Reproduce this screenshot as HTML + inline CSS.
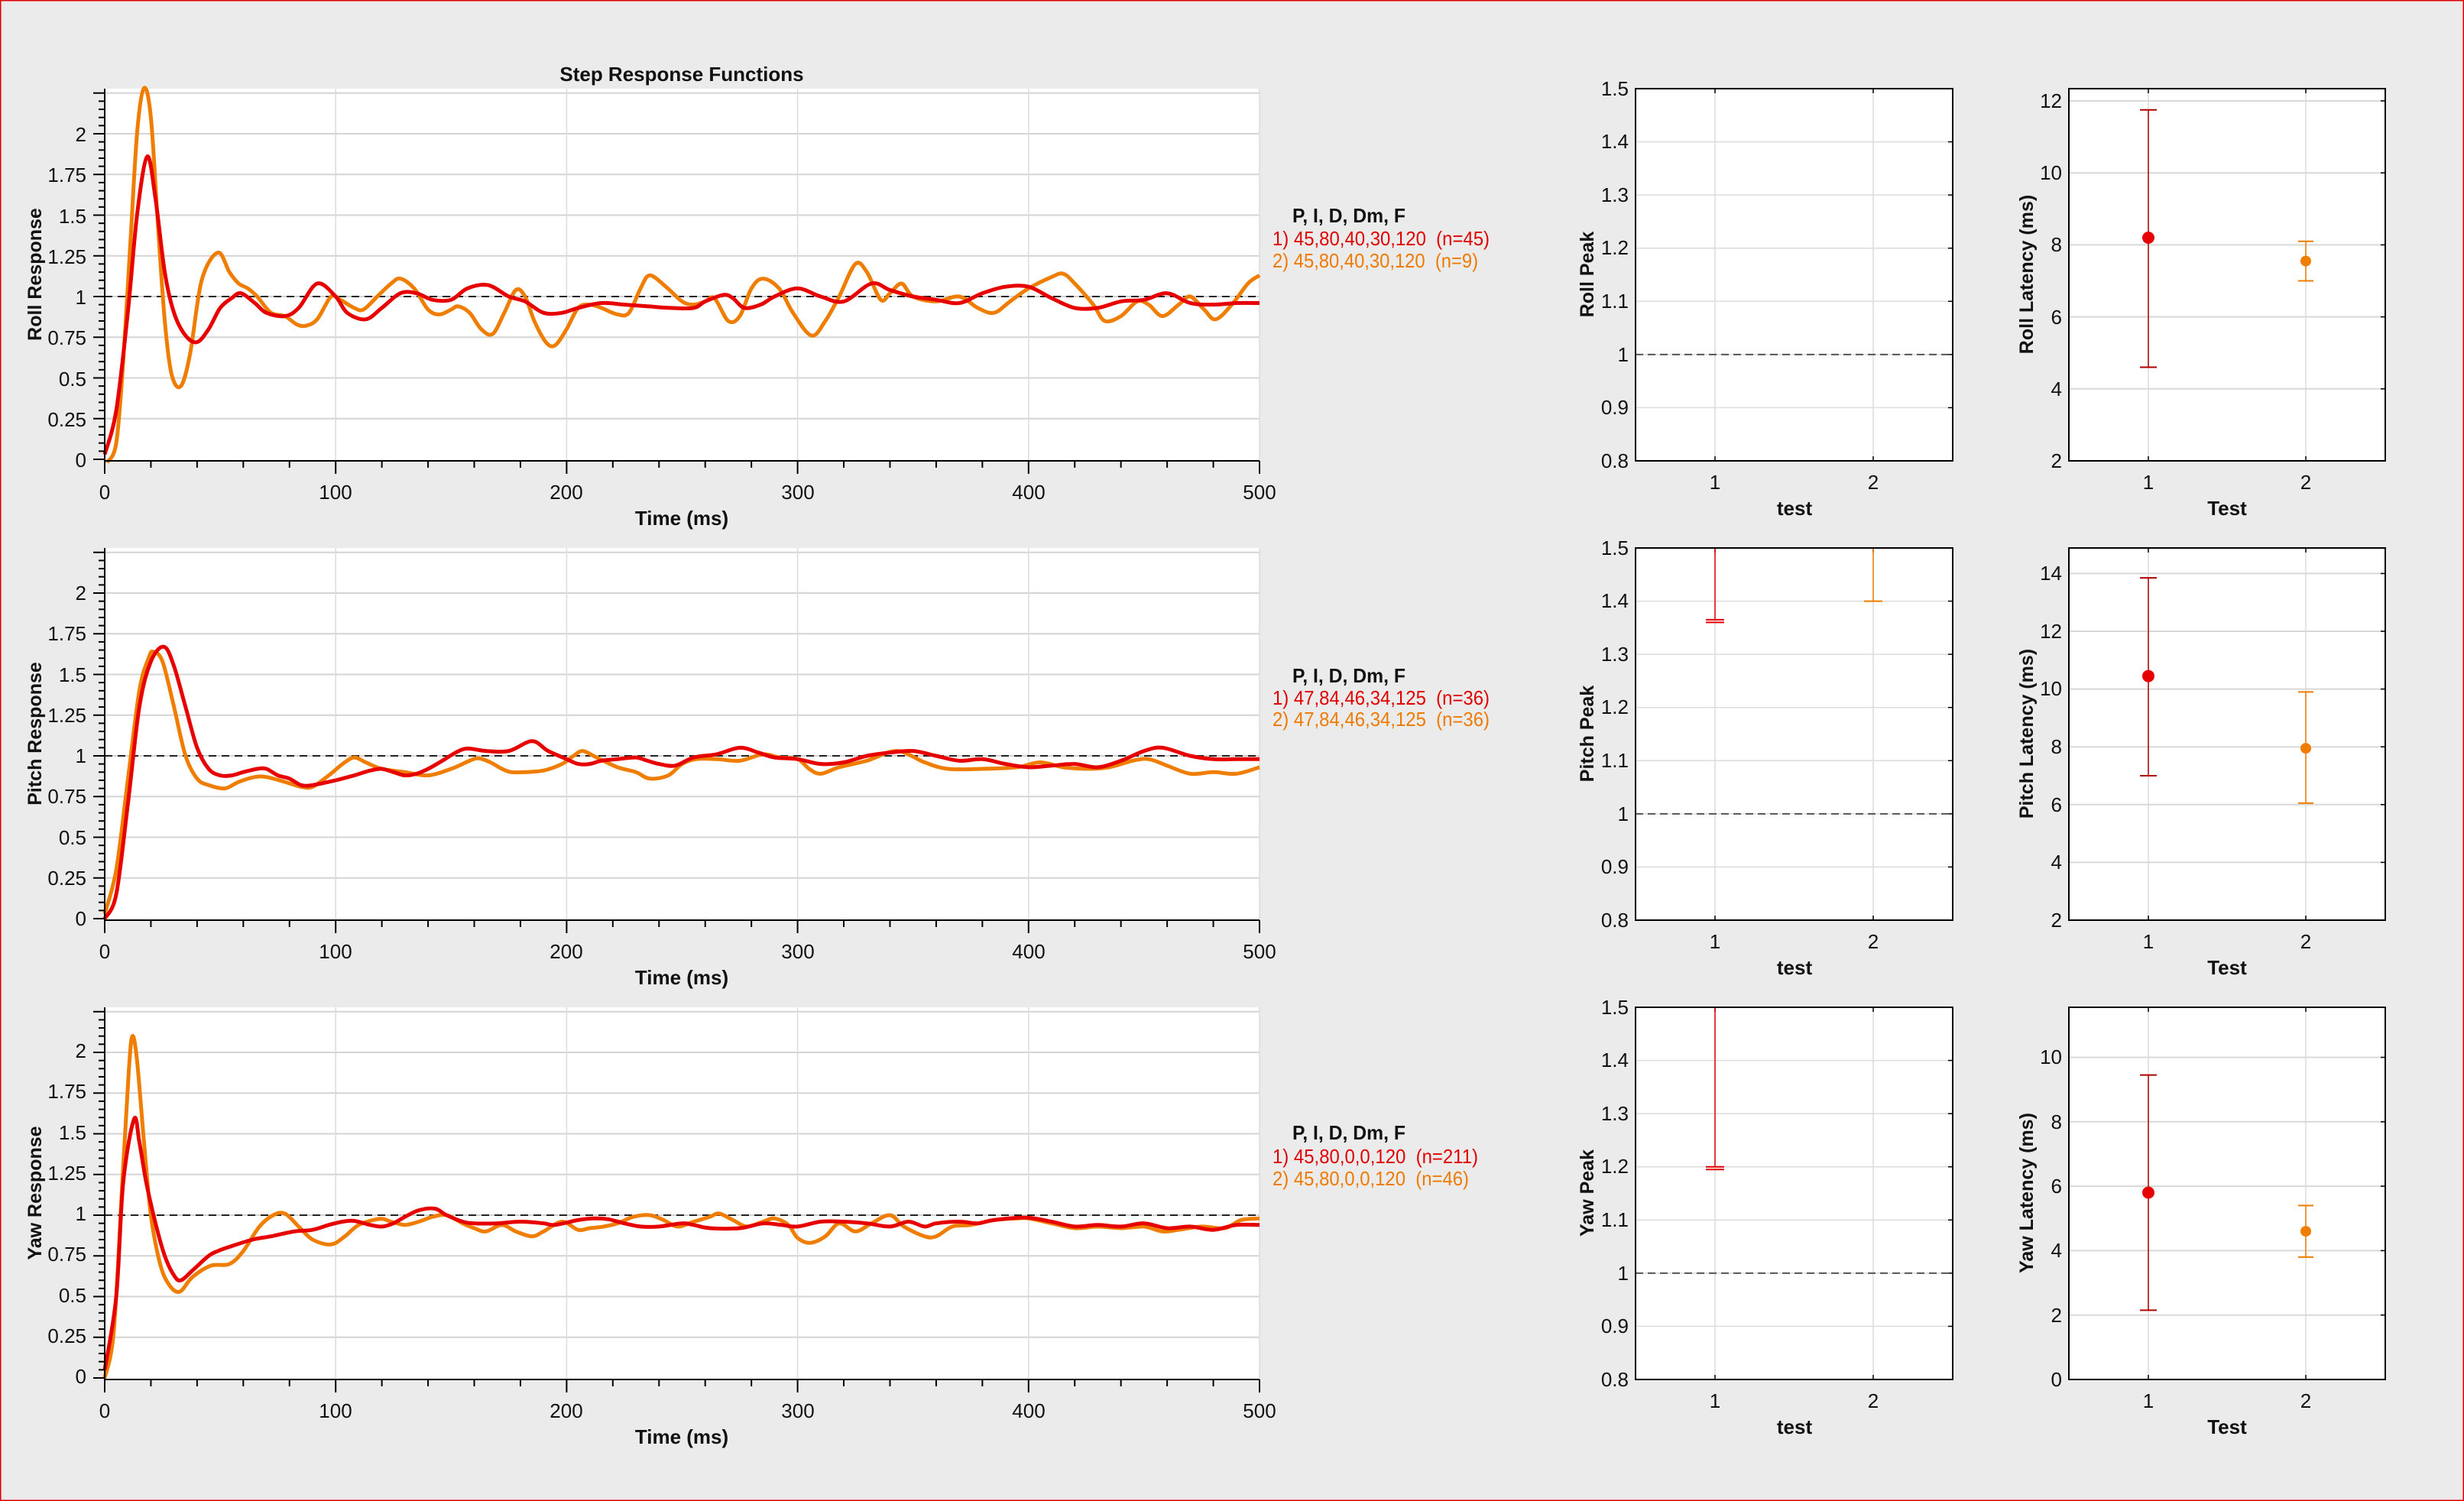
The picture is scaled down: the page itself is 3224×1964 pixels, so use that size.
<!DOCTYPE html>
<html><head><meta charset="utf-8"><style>
html,body{margin:0;padding:0;background:#ebebeb;}
svg{display:block;}
text{font-family:"Liberation Sans Narrow","Liberation Sans",sans-serif;fill:#111;}
.t{font-size:26px;}
.b{font-weight:bold;}
.yl{font-family:"Liberation Sans","DejaVu Sans",sans-serif;font-weight:bold;font-size:25px;}
.r{fill:#e00000;}
.o{fill:#ee7a00;}
.lg{white-space:pre;}
</style></head><body>
<svg id="s" width="3224" height="1964" viewBox="0 0 3224 1964" xmlns="http://www.w3.org/2000/svg">
<rect x="0" y="0" width="3224" height="1964" fill="#ebebeb" stroke="#e00000" stroke-width="3"/>
<g id="plots"></g>
<text class="b" x="892" y="106" font-size="26" text-anchor="middle">Step Response Functions</text>

<g class="t" text-anchor="end">
<text x="113" y="611">0</text><text x="113" y="558">0.25</text><text x="113" y="505">0.5</text><text x="113" y="451">0.75</text><text x="113" y="398">1</text><text x="113" y="345">1.25</text><text x="113" y="292">1.5</text><text x="113" y="238">1.75</text><text x="113" y="185">2</text>
<text x="113" y="1211">0</text><text x="113" y="1158">0.25</text><text x="113" y="1105">0.5</text><text x="113" y="1051">0.75</text><text x="113" y="998">1</text><text x="113" y="945">1.25</text><text x="113" y="892">1.5</text><text x="113" y="838">1.75</text><text x="113" y="785">2</text>
<text x="113" y="1810">0</text><text x="113" y="1757">0.25</text><text x="113" y="1704">0.5</text><text x="113" y="1650">0.75</text><text x="113" y="1597">1</text><text x="113" y="1544">1.25</text><text x="113" y="1491">1.5</text><text x="113" y="1437">1.75</text><text x="113" y="1384">2</text>
</g>
<g class="t" text-anchor="middle">
<text x="137" y="653">0</text><text x="439" y="653">100</text><text x="741" y="653">200</text><text x="1044" y="653">300</text><text x="1346" y="653">400</text><text x="1648" y="653">500</text>
<text x="137" y="1254">0</text><text x="439" y="1254">100</text><text x="741" y="1254">200</text><text x="1044" y="1254">300</text><text x="1346" y="1254">400</text><text x="1648" y="1254">500</text>
<text x="137" y="1855">0</text><text x="439" y="1855">100</text><text x="741" y="1855">200</text><text x="1044" y="1855">300</text><text x="1346" y="1855">400</text><text x="1648" y="1855">500</text>
</g>
<g class="b t" text-anchor="middle">
<text x="892" y="687">Time (ms)</text><text x="892" y="1288">Time (ms)</text><text x="892" y="1889">Time (ms)</text>
</g>
<text class="yl" transform="translate(54,359) rotate(-90)" text-anchor="middle">Roll Response</text>
<text class="yl" transform="translate(54,960) rotate(-90)" text-anchor="middle">Pitch Response</text>
<text class="yl" transform="translate(54,1561) rotate(-90)" text-anchor="middle">Yaw Response</text>

<g class="t">
<text class="b" x="1691" y="291" textLength="148" lengthAdjust="spacingAndGlyphs">P, I, D, Dm, F</text>
<text class="r lg" x="1665" y="321" textLength="284" lengthAdjust="spacingAndGlyphs">1) 45,80,40,30,120  (n=45)</text>
<text class="o lg" x="1665" y="350" textLength="269" lengthAdjust="spacingAndGlyphs">2) 45,80,40,30,120  (n=9)</text>
<text class="b" x="1691" y="893" textLength="148" lengthAdjust="spacingAndGlyphs">P, I, D, Dm, F</text>
<text class="r lg" x="1665" y="922" textLength="284" lengthAdjust="spacingAndGlyphs">1) 47,84,46,34,125  (n=36)</text>
<text class="o lg" x="1665" y="950" textLength="284" lengthAdjust="spacingAndGlyphs">2) 47,84,46,34,125  (n=36)</text>
<text class="b" x="1691" y="1491" textLength="148" lengthAdjust="spacingAndGlyphs">P, I, D, Dm, F</text>
<text class="r lg" x="1665" y="1522" textLength="269" lengthAdjust="spacingAndGlyphs">1) 45,80,0,0,120  (n=211)</text>
<text class="o lg" x="1665" y="1551" textLength="257" lengthAdjust="spacingAndGlyphs">2) 45,80,0,0,120  (n=46)</text>
</g>

<g class="t" text-anchor="end">
<text x="2131" y="612">0.8</text><text x="2131" y="542">0.9</text><text x="2131" y="473">1</text><text x="2131" y="403">1.1</text><text x="2131" y="333">1.2</text><text x="2131" y="264">1.3</text><text x="2131" y="194">1.4</text><text x="2131" y="125">1.5</text>
<text x="2131" y="1213">0.8</text><text x="2131" y="1143">0.9</text><text x="2131" y="1074">1</text><text x="2131" y="1004">1.1</text><text x="2131" y="934">1.2</text><text x="2131" y="865">1.3</text><text x="2131" y="795">1.4</text><text x="2131" y="726">1.5</text>
<text x="2131" y="1814">0.8</text><text x="2131" y="1744">0.9</text><text x="2131" y="1675">1</text><text x="2131" y="1605">1.1</text><text x="2131" y="1535">1.2</text><text x="2131" y="1466">1.3</text><text x="2131" y="1396">1.4</text><text x="2131" y="1327">1.5</text>
<text x="2698" y="612">2</text><text x="2698" y="518">4</text><text x="2698" y="424">6</text><text x="2698" y="329">8</text><text x="2698" y="235">10</text><text x="2698" y="141">12</text>
<text x="2698" y="1213">2</text><text x="2698" y="1137">4</text><text x="2698" y="1062">6</text><text x="2698" y="986">8</text><text x="2698" y="910">10</text><text x="2698" y="835">12</text><text x="2698" y="759">14</text>
<text x="2698" y="1814">0</text><text x="2698" y="1730">2</text><text x="2698" y="1645">4</text><text x="2698" y="1561">6</text><text x="2698" y="1477">8</text><text x="2698" y="1392">10</text>
</g>
<g class="t" text-anchor="middle">
<text x="2244" y="640">1</text><text x="2451" y="640">2</text><text x="2811" y="640">1</text><text x="3017" y="640">2</text>
<text x="2244" y="1241">1</text><text x="2451" y="1241">2</text><text x="2811" y="1241">1</text><text x="3017" y="1241">2</text>
<text x="2244" y="1842">1</text><text x="2451" y="1842">2</text><text x="2811" y="1842">1</text><text x="3017" y="1842">2</text>
</g>
<g class="b t" text-anchor="middle">
<text x="2348" y="674">test</text><text x="2914" y="674">Test</text>
<text x="2348" y="1275">test</text><text x="2914" y="1275">Test</text>
<text x="2348" y="1876">test</text><text x="2914" y="1876">Test</text>
</g>
<text class="yl" transform="translate(2085,359) rotate(-90)" text-anchor="middle">Roll Peak</text>
<text class="yl" transform="translate(2085,960) rotate(-90)" text-anchor="middle">Pitch Peak</text>
<text class="yl" transform="translate(2085,1561) rotate(-90)" text-anchor="middle">Yaw Peak</text>
<text class="yl" transform="translate(2660,359) rotate(-90)" text-anchor="middle">Roll Latency (ms)</text>
<text class="yl" transform="translate(2660,960) rotate(-90)" text-anchor="middle">Pitch Latency (ms)</text>
<text class="yl" transform="translate(2660,1561) rotate(-90)" text-anchor="middle">Yaw Latency (ms)</text>
</svg>
<script>
(function(){
var NS="http://www.w3.org/2000/svg",G=document.getElementById("plots");
function el(t,a){var e=document.createElementNS(NS,t);for(var k in a)e.setAttribute(k,a[k]);G.appendChild(e);return e;}
function line(x1,y1,x2,y2,c,w,d){var a={x1:x1,y1:y1,x2:x2,y2:y2,stroke:c,"stroke-width":w};if(d)a["stroke-dasharray"]=d;return el("line",a);}
var X0=137,X1=1648,XS=(X1-X0)/500;
var rows=[[116,603],[717,1204],[1318,1805]];
function cr(pts){var d="M"+pts[0][0]+","+pts[0][1];for(var i=0;i<pts.length-1;i++){var p0=pts[i-1]||pts[i],p1=pts[i],p2=pts[i+1],p3=pts[i+2]||p2;
var c1x=p1[0]+(p2[0]-p0[0])/6,c1y=p1[1]+(p2[1]-p0[1])/6,c2x=p2[0]-(p3[0]-p1[0])/6,c2y=p2[1]-(p3[1]-p1[1])/6;
d+=" C"+c1x.toFixed(1)+","+c1y.toFixed(1)+" "+c2x.toFixed(1)+","+c2y.toFixed(1)+" "+p2[0].toFixed(1)+","+p2[1].toFixed(1);}return d;}
function parse(s){return s.trim().split(/\s*,\s*/).map(function(p){var q=p.split(":");return [+q[0],+q[1]];});}
var data=[
["0:0.03,5:0.3,10:0.9,14:1.5,18.4:1.86,22:1.6,26:1.15,30:0.9,35:0.76,40:0.72,45:0.8,50:0.93,55:0.99,59:1.02,65:0.96,70:0.9,78:0.88,84:0.93,92:1.08,100:1.0,105:0.9,113:0.86,120:0.93,128:1.02,135:1.02,142:0.98,150:0.98,157:1.05,166:1.07,175:1.0,182:0.97,190:0.9,198:0.9,205:0.93,215:0.96,225:0.95,235:0.94,245:0.93,255:0.93,260:0.97,268:1.01,272:0.99,277:0.93,284:0.95,290:1.0,300:1.05,310:1.0,320:0.97,332:1.08,340:1.04,350:1.0,360:0.98,370:0.96,380:1.02,390:1.06,400:1.06,410:0.99,420:0.93,430:0.93,440:0.97,450:0.98,460:1.02,470:0.96,480:0.95,490:0.96,500:0.96",
"1:-0.02,5:0.1,8:0.6,11:1.3,14:2.0,17:2.28,20:2.1,23:1.45,26:0.85,29:0.52,33:0.45,37:0.65,42:1.1,49:1.27,54:1.15,58:1.08,62:1.05,66:1.0,72:0.9,78:0.88,83:0.83,87:0.82,92:0.86,98:1.0,102:0.98,108:0.93,112:0.92,118:1.0,124:1.08,128:1.11,134:1.05,140:0.92,145:0.89,150:0.92,153:0.94,158:0.9,163:0.8,168:0.77,173:0.9,178:1.04,182:1.0,186:0.85,191:0.72,195:0.7,200:0.8,205:0.93,210:0.95,215:0.93,222:0.89,227:0.9,232:1.05,236:1.13,243:1.06,250:0.97,255:0.95,260:0.97,264:0.99,270:0.85,275:0.88,280:1.05,285:1.11,292:1.05,298:0.9,306:0.76,312:0.85,318:1.0,325:1.2,330:1.15,336:0.98,340:1.02,345:1.08,350:1.0,360:0.97,370:1.0,378:0.93,385:0.9,392:0.97,400:1.05,410:1.12,415:1.14,420:1.08,428:0.95,433:0.85,440:0.88,447:0.97,452:0.95,458:0.88,465:0.95,470:1.0,476:0.92,481:0.86,488:0.95,495:1.08,500:1.13"],
["0:0.0,5:0.15,10:0.7,15:1.3,20:1.58,25.7:1.67,30:1.55,35:1.3,40:1.05,45:0.92,50:0.88,55:0.88,60:0.9,66:0.92,70:0.92,75:0.88,80:0.86,85:0.82,90:0.82,100:0.85,108:0.88,115:0.91,120:0.92,125:0.9,130:0.88,135:0.89,140:0.92,145:0.96,152:1.02,157:1.045,165:1.03,175:1.03,185:1.09,192:1.03,200:0.98,205:0.95,210:0.95,215:0.97,222:0.98,230:0.99,235:0.97,240:0.95,247:0.94,255:0.99,265:1.01,275:1.05,283:1.02,290:0.99,300:0.98,310:0.95,320:0.96,330:1.0,340:1.02,350:1.03,360:1.0,370:0.97,380:0.98,390:0.95,400:0.93,410:0.94,420:0.95,430:0.93,440:0.97,450:1.03,458:1.05,470:1.0,480:0.98,490:0.98,500:0.98",
"0:0.03,5:0.3,10:0.85,15:1.4,19:1.6,21:1.64,25:1.58,30:1.3,35:1.0,40:0.86,45:0.82,52:0.8,58:0.84,65:0.87,70:0.87,78:0.84,85:0.81,90:0.81,97:0.88,103:0.95,108:0.99,113:0.96,120:0.92,130:0.9,140:0.88,150:0.92,158:0.97,162:0.985,167:0.96,172:0.92,176:0.9,182:0.9,190:0.91,198:0.95,203:1.0,207:1.03,213:0.99,222:0.93,230:0.9,236:0.86,244:0.88,250:0.95,256:0.98,265:0.98,275:0.97,285:1.01,292:0.99,300:0.98,305:0.92,310:0.89,318:0.93,330:0.97,343:1.03,355:0.96,365:0.92,380:0.92,395:0.93,405:0.96,415:0.93,425:0.92,435:0.93,445:0.97,452:0.98,460:0.94,470:0.89,480:0.9,490:0.89,500:0.93"],
["0:0.05,5:0.5,8:1.2,12.7:1.59,15:1.45,18:1.2,22:0.95,26:0.75,30:0.63,33:0.6,38:0.66,45:0.75,49:0.78,55:0.81,64:0.85,72:0.87,82:0.9,90:0.91,97:0.94,103:0.96,108:0.965,115:0.94,120:0.93,125:0.95,130:0.99,136:1.03,143:1.04,148:1.0,155:0.96,160:0.95,170:0.95,180:0.96,190:0.95,195:0.94,205:0.97,212:0.98,218:0.975,225:0.95,232:0.93,240:0.93,250:0.95,255:0.94,262:0.92,275:0.92,285:0.95,293:0.94,300:0.93,310:0.96,320:0.96,330:0.95,340:0.93,348:0.96,355:0.93,360:0.95,370:0.96,378:0.95,385:0.97,399:0.985,410:0.96,420:0.93,430:0.94,440:0.93,450:0.95,460:0.92,470:0.93,480:0.91,490:0.94,500:0.94",
"0:0.0,4:0.3,8:1.3,10.5:1.9,12:2.1,14:1.95,17:1.45,20:1.0,24:0.7,28:0.57,32.5:0.53,38:0.62,46:0.69,54:0.7,60:0.78,67:0.93,73:1.0,78:1.01,84:0.93,90:0.85,98:0.82,104:0.87,110:0.94,119:0.977,124:0.96,130:0.94,136:0.96,142:0.99,148:1.0,155:0.95,160:0.92,165:0.9,172:0.94,178:0.9,185:0.87,190:0.9,198:0.96,205:0.91,210:0.92,216:0.93,222:0.95,229:0.99,236:1.0,242:0.97,248:0.93,255:0.96,262:0.99,266:1.01,272:0.97,278:0.93,285:0.96,290:0.98,296:0.94,300:0.86,305.5:0.83,312:0.87,318:0.95,325:0.9,332:0.95,340:1.0,346:0.93,355:0.87,360:0.87,367:0.93,375:0.94,385:0.97,395:0.98,400:0.98,410:0.95,420:0.92,430:0.93,440:0.92,450:0.93,458:0.9,465:0.91,475:0.93,485:0.92,492:0.97,500:0.98"]];
var U=213;
rows.forEach(function(r,i){
 var T=r[0],B=r[1],Z=B-2;
 el("rect",{x:X0,y:T,width:X1-X0,height:B-T,fill:"#fff"});
 for(var v=0.25;v<=2.26;v+=0.25){line(X0,Z-v*U,X1,Z-v*U,"#d4d4d4",2);}
 for(var t=100;t<=500;t+=100){line(X0+t*XS,T,X0+t*XS,B,"#dcdcdc",1.5);}
 line(X0,Z-U,X1,Z-U,"#222",2,"10,7");
 var cols=["#e60000","#ef7d00"];
 [1,0].forEach(function(k){
  var pts=parse(data[i][k]).map(function(p){return [X0+p[0]*XS,Z-p[1]*U];});
  el("path",{d:cr(pts),fill:"none",stroke:cols[k],"stroke-width":5,"stroke-linejoin":"round"});
 });
 line(X0,T,X0,B+1,"#000",2);line(X0-1,B,X1,B,"#000",2);
 for(var j=0;j<=45;j++){var y=Z-j*0.05*U;if(y<T)break;line(X0-(j%5==0?15:8),y,X0,y,"#000",2);}
 for(var t=0;t<=500;t+=20){var x=X0+t*XS;line(x,B,x,B+(t%100==0?17:9),"#000",2);}
 var PX0=2140,PX1=2555,PU=(B-T)/0.7;
 el("rect",{x:PX0,y:T,width:PX1-PX0,height:B-T,fill:"#fff"});
 for(var k2=1;k2<7;k2++){var y=B-k2*0.1*PU;line(PX0,y,PX1,y,"#dcdcdc",1.5);line(PX1-6,y,PX1,y,"#000",1.5);}
 [2244,2451].forEach(function(x){line(x,T,x,B,"#dcdcdc",1.5);line(x,B-6,x,B,"#000",1.5);line(x,T,x,T+6,"#000",1.5);});
 line(PX0,B-0.2*PU,PX1,B-0.2*PU,"#555",2,"10,6");
 var LX0=2707,LX1=3121;
 el("rect",{x:LX0,y:T,width:LX1-LX0,height:B-T,fill:"#fff"});
 [2811,3017].forEach(function(x){line(x,T,x,B,"#dcdcdc",1.5);line(x,B-6,x,B,"#000",1.5);line(x,T,x,T+6,"#000",1.5);});
 var lat=[{lo:2,u:47.1,ticks:[4,6,8,10,12]},{lo:2,u:37.8,ticks:[4,6,8,10,12,14]},{lo:0,u:42.15,ticks:[2,4,6,8,10]}][i];
 lat.ticks.forEach(function(v){var y=B-(v-lat.lo)*lat.u;line(LX0,y,LX1,y,"#d8d8d8",2);line(LX1-6,y,LX1,y,"#000",1.5);});
 function eb(x,lo,hi,c,cw){line(x,lo,x,hi,c,1.5);line(x-cw,lo,x+cw,lo,c,2);line(x-cw,hi,x+cw,hi,c,2);}
 if(i==1){eb(2244,B-(1.365-0.8)*PU,T,"#e00000",12);line(2232,B-(1.36-0.8)*PU,2256,B-(1.36-0.8)*PU,"#e00000",2);eb(2451,B-(1.4-0.8)*PU,T,"#ef7d00",12);}
 if(i==2){eb(2244,B-(1.2-0.8)*PU,T,"#e00000",12);line(2232,B-(1.195-0.8)*PU,2256,B-(1.195-0.8)*PU,"#e00000",2);}
 var L=[[[8.2,4.6,11.75],[7.55,7.0,8.1]],[[10.45,7.0,13.85],[7.95,6.05,9.9]],[[5.8,2.15,9.45],[4.6,3.8,5.4]]][i];
 function ly(v){return B-(v-lat.lo)*lat.u;}
 eb(2811,ly(L[0][1]),ly(L[0][2]),"#b00000",11);
 el("circle",{cx:2811,cy:ly(L[0][0]),r:8,fill:"#e60000"});
 eb(3017,ly(L[1][1]),ly(L[1][2]),"#ef7d00",10);
 el("circle",{cx:3017,cy:ly(L[1][0]),r:7,fill:"#ef7d00"});
 el("rect",{x:PX0,y:T,width:PX1-PX0,height:B-T,fill:"none",stroke:"#000","stroke-width":2});
 el("rect",{x:LX0,y:T,width:LX1-LX0,height:B-T,fill:"none",stroke:"#000","stroke-width":2});
});
})();
</script>
</body></html>
